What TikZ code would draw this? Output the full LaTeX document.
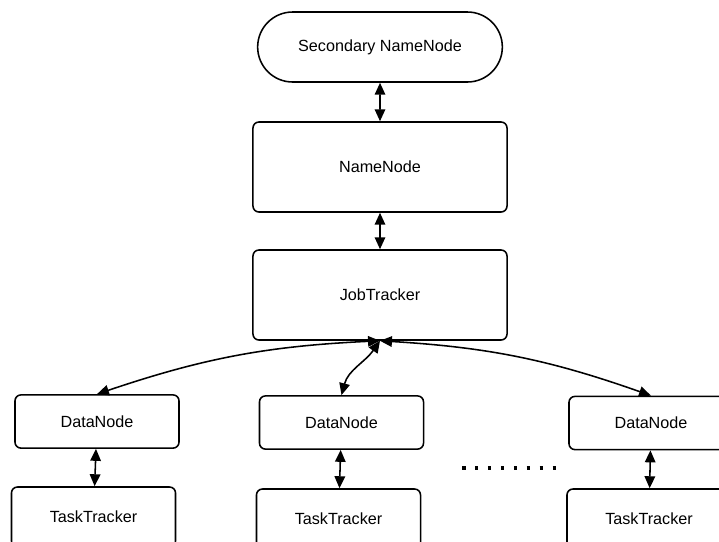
\documentclass[tikz,border=0pt]{standalone}
\usepackage{fontspec}
\setmainfont{Liberation Sans}
\usetikzlibrary{arrows.meta,shapes.misc}

\tikzset{
  box/.style = {draw, line width = 1.1pt, rounded corners = 0.15cm,
    font = \fontsize{11.5}{13}\selectfont},
  bigbox/.style = {box, minimum width = 6.35cm, minimum height = 2.25cm},
  smallbox/.style = {box, minimum width = 4.1cm, minimum height = 1.33cm},
  pill/.style = {draw, line width = 1.1pt, rounded rectangle,
    minimum width = 6.35cm, minimum height = 1.75cm,
    font = \fontsize{11.5}{13}\selectfont},
  link/.style = {line width = 1.1pt, {Triangle[length=8.5pt,width=7.5pt]}-{Triangle[length=8.5pt,width=7.5pt]}}
}

\begin{document}
\begin{tikzpicture}[x = 0.025cm, y = -0.025cm]
    \useasboundingbox (0, 0) rectangle (719, 541);

    \node[pill] (snn) at (380, 47) {Secondary NameNode};
    \node[bigbox] (nn) at (380, 167) {NameNode};
    \node[bigbox] (jt) at (380, 295) {JobTracker};

    \node[smallbox] (dn1) at (97, 421.5) {DataNode};
    \node[smallbox] (dn2) at (341.5, 422.5) {DataNode};
    \node[smallbox] (dn3) at (651, 423) {DataNode};

    \begin{scope}[every node/.style = {smallbox, minimum height = 1.5cm}]
      \node (tt1) at (93.5, 517) {TaskTracker};
      \node (tt2) at (338.5, 519) {TaskTracker};
      \node (tt3) at (649, 519) {TaskTracker};
    \end{scope}

    \draw[link] (snn) -- (nn);
    \draw[link] (nn) -- (jt);

    \draw[link] (jt.south) to[bend right = 8] (dn1.north);
    \draw[link] (jt.south) to[out = -125, in = 75] (dn2.north);
    \draw[link] (jt.south) to[bend left = 8] (dn3.north);

    \draw[link] (dn1) -- (tt1);
    \draw[link] (dn2) -- (tt2);
    \draw[link] (dn3) -- (tt3);

    % more nodes
    \draw[line width = 2.3pt, dash pattern = on 2.5pt off 6.7pt] (462, 468) -- (556, 468);
\end{tikzpicture}
\end{document}
